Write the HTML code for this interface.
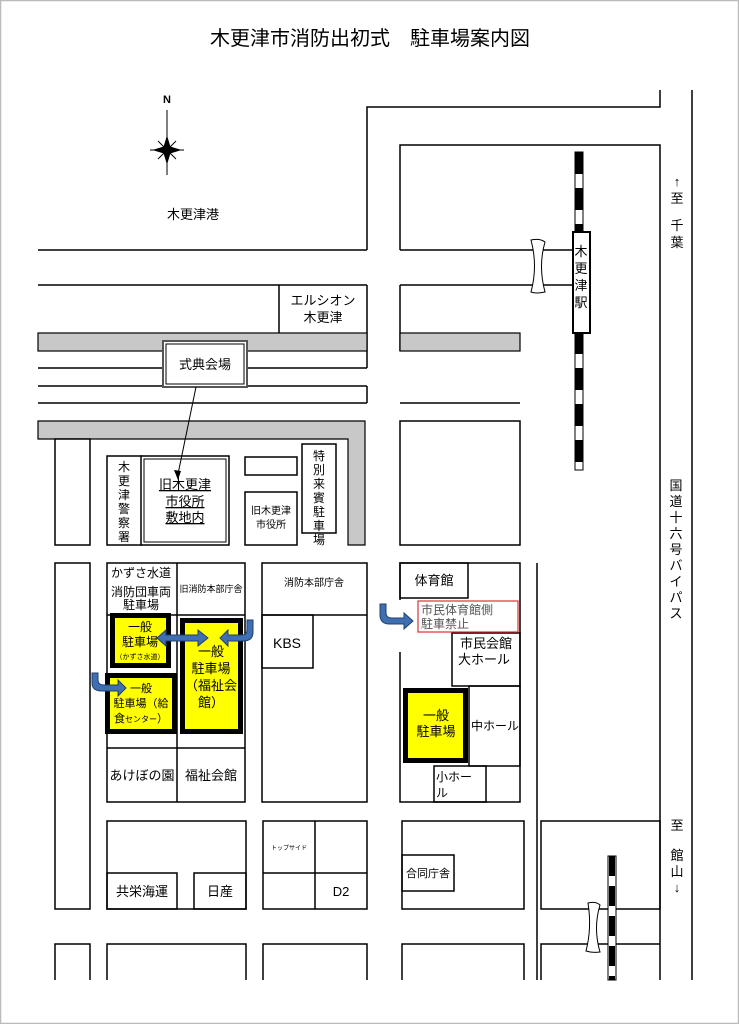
<!DOCTYPE html>
<html><head><meta charset="utf-8"><style>
html,body{margin:0;padding:0;background:#fff}
svg{display:block}
text{font-family:"Liberation Sans","Noto Sans CJK JP",sans-serif;fill:#000}
</style></head><body>
<svg width="739" height="1024" viewBox="0 0 739 1024" xmlns="http://www.w3.org/2000/svg">
<rect x="0.5" y="0.5" width="738" height="1023" fill="#fff" stroke="#bbb" stroke-width="1.5"/>
<text x="370" y="45" font-size="20" text-anchor="middle">木更津市消防出初式　駐車場案内図</text>

<g stroke="#000" stroke-width="1.5" fill="none">
<polyline points="367,250 367,107 660,107 660,90"/>
<line x1="38" y1="250" x2="367" y2="250"/>
<polyline points="400,250 400,145 660,145 660,980"/>
<line x1="400" y1="250" x2="575" y2="250"/>
<line x1="692" y1="90" x2="692" y2="980"/>
<line x1="38" y1="285" x2="367" y2="285"/>
<line x1="400" y1="285" x2="575" y2="285"/>
<polyline points="279,285 279,333"/>
<line x1="367" y1="285" x2="367" y2="368"/>
<line x1="367" y1="386" x2="367" y2="403"/>
<line x1="400" y1="285" x2="400" y2="351"/>
<line x1="38" y1="368" x2="367" y2="368"/>
<line x1="38" y1="386" x2="367" y2="386"/>
<line x1="38" y1="403" x2="367" y2="403"/>
<line x1="400" y1="403" x2="520" y2="403"/>
</g>
<rect x="38" y="333" width="329" height="18" fill="#c8c8c8" stroke="#000" stroke-width="1.2"/>
<rect x="400" y="333" width="120" height="18" fill="#c8c8c8" stroke="#000" stroke-width="1.2"/>
<path d="M38,421 H365 V545 H348 V439 H38 Z" fill="#c8c8c8" stroke="#000" stroke-width="1.2"/>
<rect x="400" y="421" width="120" height="124" fill="none" stroke="#000" stroke-width="1.5"/>

<text x="323" y="305" font-size="13" text-anchor="middle">エルシオン</text>
<text x="323" y="322" font-size="13" text-anchor="middle">木更津</text>

<rect x="163" y="341" width="84" height="46" fill="#fff" stroke="#555" stroke-width="2"/>
<rect x="166" y="344" width="78" height="40" fill="#fff" stroke="#000" stroke-width="1"/>
<text x="205" y="369" font-size="13" text-anchor="middle">式典会場</text>

<g>
<rect x="575" y="152" width="8" height="318" fill="#fff" stroke="#000" stroke-width="1"/>
<path d="M579,152 V470" stroke="#000" stroke-width="8" stroke-dasharray="22,14"/>
<path d="M531,240 Q540,238 545,242 Q538,266 545,292 Q536,294 531,292 Q538,266 531,240Z" fill="#fff" stroke="#000" stroke-width="1"/>
<rect x="573" y="232" width="17" height="101" fill="#fff" stroke="#000" stroke-width="2"/>
<text font-size="13" text-anchor="middle"><tspan x="581" y="256">木</tspan><tspan x="581" y="273">更</tspan><tspan x="581" y="290">津</tspan><tspan x="581" y="307">駅</tspan></text>
</g>

<g stroke="#000" fill="#000">
<line x1="167" y1="110" x2="167" y2="175" stroke-width="1"/>
<line x1="150" y1="150" x2="184" y2="150" stroke-width="1"/>
<line x1="158" y1="141" x2="176" y2="159" stroke-width="1"/>
<line x1="176" y1="141" x2="158" y2="159" stroke-width="1"/>
<polygon points="167,137 170,147 180,150 170,153 167,163 164,153 154,150 164,147"/>
</g>
<text x="167" y="103" font-size="11" font-weight="bold" text-anchor="middle" font-family="Liberation Serif">N</text>
<text x="193" y="219" font-size="13" text-anchor="middle">木更津港</text>

<text font-size="13" text-anchor="middle"><tspan x="677" y="186">↑</tspan><tspan x="677" y="203">至</tspan><tspan x="677" y="230">千</tspan><tspan x="677" y="247">葉</tspan></text>
<text font-size="13" text-anchor="middle"><tspan x="676" y="490">国</tspan><tspan x="676" y="506">道</tspan><tspan x="676" y="522">十</tspan><tspan x="676" y="538">六</tspan><tspan x="676" y="554">号</tspan><tspan x="676" y="570">バ</tspan><tspan x="676" y="586">イ</tspan><tspan x="676" y="602">パ</tspan><tspan x="676" y="618">ス</tspan></text>
<text font-size="13" text-anchor="middle"><tspan x="677" y="830">至</tspan><tspan x="677" y="860">館</tspan><tspan x="677" y="876">山</tspan><tspan x="677" y="892">↓</tspan></text>

<g stroke="#000" stroke-width="1.5" fill="#fff">
<rect x="55" y="439" width="35" height="106"/>
<rect x="107" y="456" width="35" height="89"/>
<rect x="245" y="457" width="52" height="18"/>
<rect x="245" y="492" width="52" height="53"/>
<rect x="302" y="444" width="34" height="89"/>
</g>
<rect x="141" y="456" width="88" height="89" fill="#fff" stroke="#000" stroke-width="1.5"/>
<rect x="144" y="459" width="82" height="83" fill="none" stroke="#000" stroke-width="1"/>
<text font-size="12" text-anchor="middle"><tspan x="124" y="471">木</tspan><tspan x="124" y="485">更</tspan><tspan x="124" y="499">津</tspan><tspan x="124" y="513">警</tspan><tspan x="124" y="527">察</tspan><tspan x="124" y="541">署</tspan></text>
<text font-size="13" text-anchor="middle" text-decoration="underline"><tspan x="185" y="489">旧木更津</tspan><tspan x="185" y="506">市役所</tspan><tspan x="185" y="522">敷地内</tspan></text>
<text font-size="10" text-anchor="middle"><tspan x="271" y="514">旧木更津</tspan><tspan x="271" y="528">市役所</tspan></text>
<text font-size="12" text-anchor="middle"><tspan x="319" y="460">特</tspan><tspan x="319" y="474">別</tspan><tspan x="319" y="488">来</tspan><tspan x="319" y="502">賓</tspan><tspan x="319" y="516">駐</tspan><tspan x="319" y="530">車</tspan><tspan x="319" y="544">場</tspan></text>
<line x1="196" y1="387" x2="178" y2="474" stroke="#000" stroke-width="1"/>
<polygon points="178,480 174,470 181,471" fill="#000"/>

<g stroke="#000" stroke-width="1.5" fill="none">
<rect x="55" y="563" width="35" height="346"/>
<rect x="107" y="563" width="138" height="239"/>
<line x1="177" y1="563" x2="177" y2="802"/>
<line x1="107" y1="615" x2="245" y2="615"/>
<line x1="107" y1="748" x2="245" y2="748"/>
<rect x="262" y="563" width="105" height="239"/>
<line x1="262" y1="615" x2="367" y2="615"/>
<rect x="262" y="615" width="51" height="53"/>
</g>
<text x="141" y="577" font-size="12" text-anchor="middle">かずさ水道</text>
<text x="141" y="596" font-size="12" text-anchor="middle">消防団車両</text>
<text x="141" y="609" font-size="12" text-anchor="middle">駐車場</text>
<text x="211" y="592" font-size="9" text-anchor="middle">旧消防本部庁舎</text>
<text x="314" y="586" font-size="10" text-anchor="middle">消防本部庁舎</text>
<text x="287" y="648" font-size="14" text-anchor="middle">KBS</text>
<text x="142" y="780" font-size="13" text-anchor="middle">あけぼの園</text>
<text x="211" y="780" font-size="13" text-anchor="middle">福祉会館</text>

<rect x="112.5" y="615.5" width="56" height="50" fill="#ffff00" stroke="#000" stroke-width="5"/>
<rect x="107.5" y="675.5" width="67" height="56" fill="#ffff00" stroke="#000" stroke-width="5"/>
<rect x="182.5" y="620.5" width="58" height="111" fill="#ffff00" stroke="#000" stroke-width="5"/>
<rect x="405.5" y="690.5" width="60" height="70" fill="#ffff00" stroke="#000" stroke-width="5"/>
<text font-size="12" text-anchor="middle"><tspan x="140" y="631">一般</tspan><tspan x="140" y="646">駐車場</tspan></text>
<text x="140" y="659" font-size="7" text-anchor="middle">（かずさ水道）</text>
<text font-size="11" text-anchor="middle"><tspan x="141" y="692">一般</tspan><tspan x="141" y="707">駐車場（給</tspan></text>
<text x="141" y="722" font-size="11" text-anchor="middle">食<tspan font-size="8">センター</tspan>）</text>
<text font-size="13" text-anchor="middle"><tspan x="211" y="656">一般</tspan><tspan x="211" y="673">駐車場</tspan><tspan x="211" y="690">（福祉会</tspan><tspan x="211" y="707">館）</tspan></text>
<text font-size="13" text-anchor="middle"><tspan x="436" y="720">一般</tspan><tspan x="436" y="736">駐車場</tspan></text>

<g fill="#3f6fb0" stroke="#1f3f70" stroke-width="1">
<polygon points="157,638 166,630 166,635 198,635 198,630 208,638 198,646 198,641 166,641 166,646"/>
<path d="M253,620 V632 Q253,641 243,641 H228 V646 L220,638 L228,630 V635 H241 Q247,635 247,630 V620 Z"/>
<path d="M92,673 V683 Q92,691 102,691 H118 V696 L126,688 L118,680 V685 H104 Q98,685 98,680 V673 Z"/>
<path d="M380,604 V615 Q380,624 390,624 H404 V629 L413,621 L404,613 V618 H392 Q386,618 386,613 V604 Z"/>
</g>

<g stroke="#000" stroke-width="1.5" fill="none">
<polyline points="400,600 400,563 520,563 520,802 400,802 400,652"/>
<rect x="400" y="563" width="68" height="35"/>
<rect x="452" y="633" width="68" height="53"/>
<rect x="469" y="686" width="51" height="80"/>
<rect x="434" y="766" width="52" height="36"/>
<line x1="537" y1="563" x2="537" y2="980"/>
</g>
<rect x="418" y="601" width="100" height="31" fill="#fff" stroke="#e03030" stroke-width="1.2"/>
<text font-size="12" font-family="Liberation Serif,'Noto Serif CJK SC',serif" style="fill:#555"><tspan x="421" y="614">市民体育館側</tspan><tspan x="421" y="628">駐車禁止</tspan></text>
<text x="434" y="585" font-size="13" text-anchor="middle">体育館</text>
<text font-size="13" text-anchor="middle"><tspan x="486" y="648">市民会館</tspan><tspan x="484" y="664">大ホール</tspan></text>
<text x="495" y="730" font-size="12" text-anchor="middle">中ホール</text>
<text font-size="12"><tspan x="436" y="781">小ホー</tspan><tspan x="436" y="797">ル</tspan></text>

<g stroke="#000" stroke-width="1.5" fill="none">
<rect x="107" y="821" width="139" height="88"/>
<rect x="107" y="873" width="70" height="36"/>
<rect x="194" y="873" width="52" height="36"/>
<rect x="263" y="821" width="104" height="88"/>
<line x1="315" y1="821" x2="315" y2="909"/>
<line x1="263" y1="873" x2="367" y2="873"/>
<rect x="402" y="821" width="122" height="88"/>
<rect x="402" y="855" width="52" height="36"/>
<rect x="541" y="821" width="119" height="88"/>
<polyline points="55,980 55,944 90,944 90,980"/>
<polyline points="107,980 107,944 246,944 246,980"/>
<polyline points="263,980 263,944 367,944 367,980"/>
<polyline points="402,980 402,944 524,944 524,980"/>
<polyline points="541,980 541,944 660,944"/>
</g>
<text x="142" y="896" font-size="13" text-anchor="middle">共栄海運</text>
<text x="220" y="896" font-size="13" text-anchor="middle">日産</text>
<text x="289" y="850" font-size="6" text-anchor="middle">トップサイド</text>
<text x="341" y="896" font-size="13" text-anchor="middle">D2</text>
<text x="428" y="877" font-size="11" text-anchor="middle">合同庁舎</text>
<rect x="608" y="856" width="8" height="124" fill="#fff" stroke="#000" stroke-width="1"/>
<path d="M612,856 V980" stroke="#000" stroke-width="6" stroke-dasharray="20,10"/>
<path d="M588,903 Q596,901 600,905 Q593,928 600,952 Q592,953 586,951 Q592,928 588,903Z" fill="#fff" stroke="#000" stroke-width="1"/>
</svg>
</body></html>
